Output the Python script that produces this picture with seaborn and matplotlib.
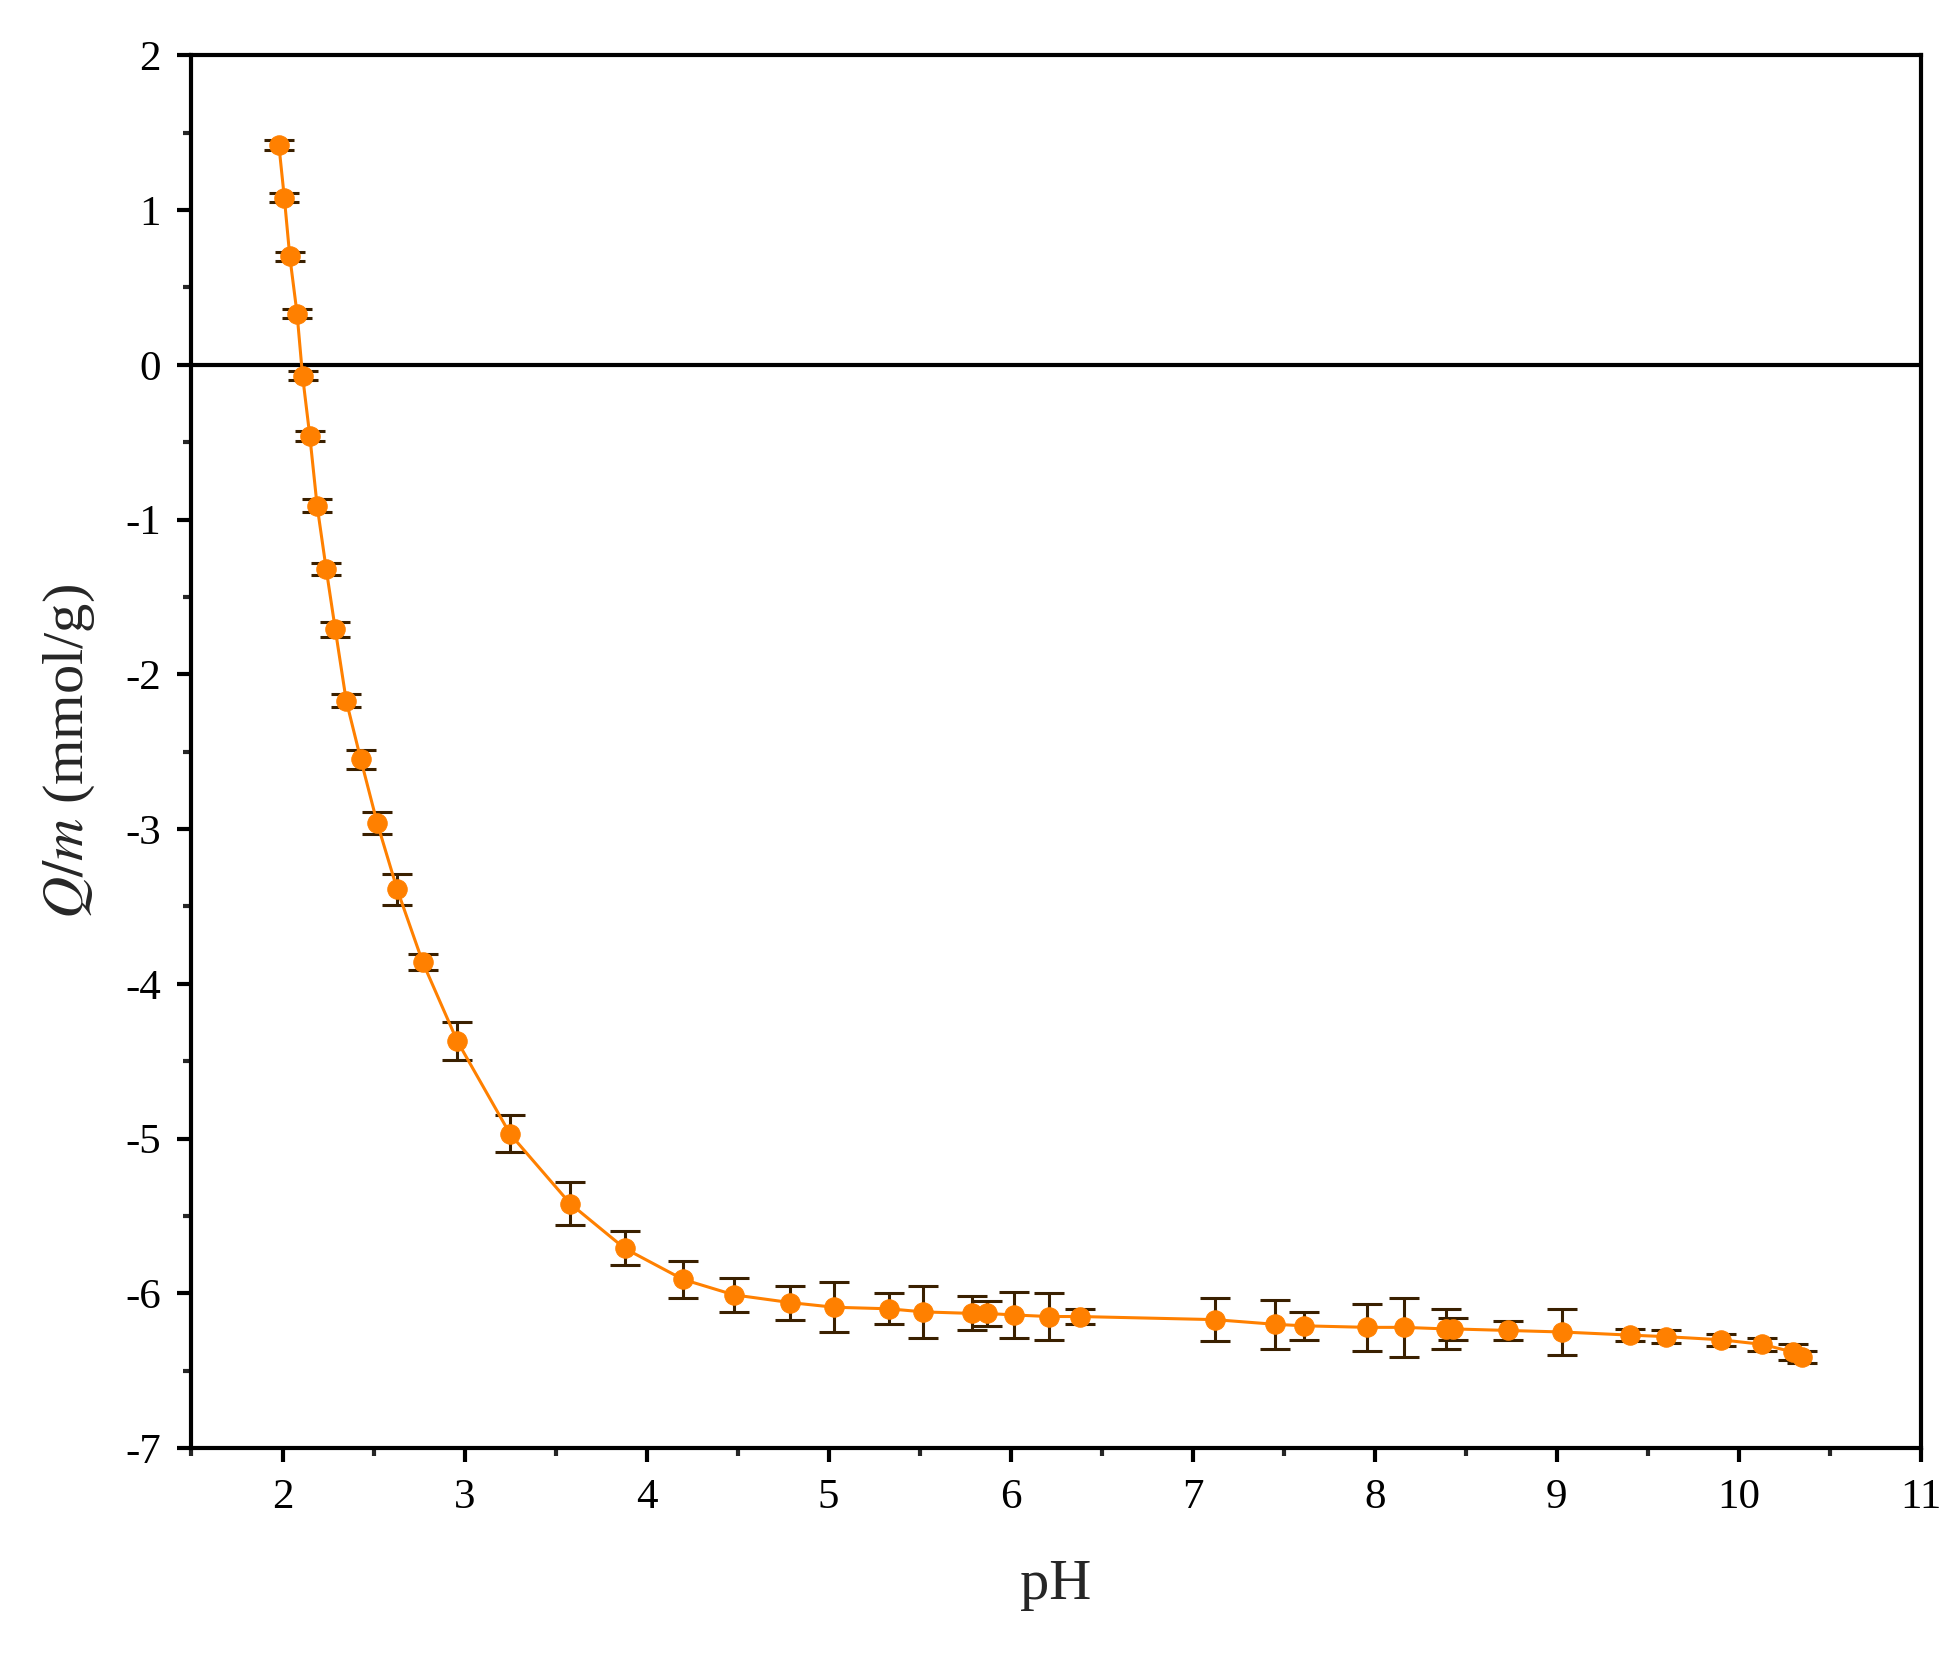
import numpy as np
import pandas as pd
import matplotlib
matplotlib.use("Agg")
import matplotlib.pyplot as plt
import seaborn as sns
from matplotlib.ticker import MultipleLocator

ph = [1.98, 2.01, 2.04, 2.08, 2.11, 2.15, 2.19, 2.24, 2.29, 2.35, 2.43, 2.52, 2.63, 2.77, 2.96,
      3.25, 3.58, 3.88, 4.20, 4.48, 4.79, 5.03, 5.33, 5.52, 5.79, 5.87, 6.02, 6.21, 6.38,
      7.12, 7.45, 7.61, 7.96, 8.16, 8.39, 8.43, 8.73, 9.03, 9.40, 9.60, 9.90, 10.13, 10.30, 10.35]
qm = [1.42, 1.08, 0.70, 0.33, -0.07, -0.46, -0.91, -1.32, -1.71, -2.17, -2.55, -2.96, -3.39, -3.86, -4.37,
      -4.97, -5.42, -5.71, -5.91, -6.01, -6.06, -6.09, -6.10, -6.12, -6.13, -6.13, -6.14, -6.15, -6.15,
      -6.17, -6.20, -6.21, -6.22, -6.22, -6.23, -6.23, -6.24, -6.25, -6.27, -6.28, -6.30, -6.33, -6.38, -6.41]
err = [0.03, 0.03, 0.03, 0.03, 0.03, 0.03, 0.04, 0.04, 0.05, 0.04, 0.06, 0.07, 0.10, 0.05, 0.12,
       0.12, 0.14, 0.11, 0.12, 0.11, 0.11, 0.16, 0.10, 0.17, 0.11, 0.08, 0.15, 0.15, 0.05,
       0.14, 0.16, 0.09, 0.15, 0.19, 0.13, 0.07, 0.06, 0.15, 0.04, 0.04, 0.04, 0.04, 0.05, 0.04]

df = pd.DataFrame({"pH": ph, "Q": qm, "err": err})

sns.set_theme(style="ticks")
plt.rcParams['font.family'] = ['Liberation Serif', 'DejaVu Serif']
plt.rcParams['axes.unicode_minus'] = False
plt.rcParams['mathtext.fontset'] = 'stix'
orange = "#FF8000"

fig = plt.figure(figsize=(19.54, 16.76), dpi=100)
ax = fig.add_axes([0.098, 0.136, 0.885, 0.831])
ax.axhline(0, color="black", lw=3, zorder=1)
sns.lineplot(data=df, x="pH", y="Q", ax=ax, color=orange, lw=2.2, marker="o",
             markersize=14, markeredgecolor=orange, sort=False, zorder=3)
ax.errorbar(df["pH"], df["Q"], yerr=df["err"], fmt="none", ecolor="#3a2000",
            elinewidth=2.2, capsize=11, capthick=2.2, zorder=2)

ax.set_xlim(1.5, 11)
ax.set_ylim(-7, 2)
ax.xaxis.set_major_locator(MultipleLocator(1))
ax.xaxis.set_minor_locator(MultipleLocator(0.5))
ax.yaxis.set_major_locator(MultipleLocator(1))
ax.yaxis.set_minor_locator(MultipleLocator(0.5))
ax.tick_params(which="major", direction="out", length=10, width=3, labelsize=31, pad=12, colors="black")
ax.tick_params(which="minor", direction="out", length=6, width=3)
for s in ax.spines.values():
    s.set_linewidth(3)
    s.set_color("black")
ax.set_xlabel("pH", fontsize=42, labelpad=30)
ax.set_ylabel(r"$Q/m$ (mmol/g)", fontsize=42, labelpad=20)
fig.savefig("out.png", dpi=100)
